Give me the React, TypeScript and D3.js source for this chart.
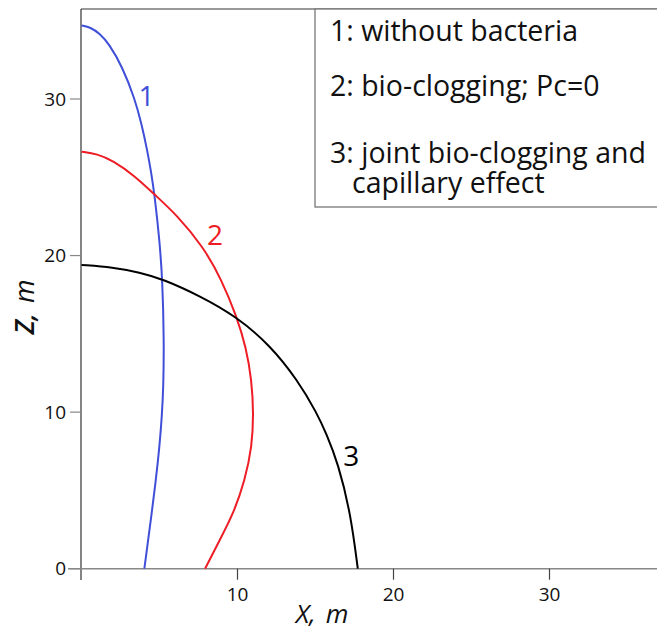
import React from "react";
import * as d3 from "d3";

// Curve 1: without bacteria  [x, z]
const curve1X = [0, 0.58, 1.15, 1.75, 2.62, 3.42, 3.85, 4.2, 4.47, 4.68, 5.0, 5.19, 5.29, 5.25, 5.15, 5.0, 4.76, 4.5, 4.03];
const curve1Z = [34.7, 34.58, 34.19, 33.55, 32.06, 30.0, 28.4, 26.8, 25.3, 23.9, 21.0, 18.44, 14.5, 11.6, 9.7, 7.8, 5.6, 3.54, 0];
// Curve 2: bio-clogging; Pc=0
const curve2X = [0, 1.0, 2.04, 3.4, 4.71, 6.1, 7.81, 8.99, 9.95, 10.54, 10.91, 11.03, 10.93, 10.48, 9.75, 8.86, 7.92];
const curve2Z = [26.63, 26.5, 26.05, 25.1, 23.87, 22.6, 20.56, 18.44, 16.09, 14.18, 12.05, 9.92, 7.79, 5.66, 3.54, 1.83, 0];
// Curve 3: joint bio-clogging and capillary effect
const curve3X = [0, 2.0, 3.75, 5.2, 7.6, 9.95, 12.08, 13.85, 15.1, 15.68, 16.45, 17.25, 17.71];
const curve3Z = [19.4, 19.25, 18.92, 18.5, 17.42, 16.09, 14.28, 12.05, 9.92, 8.65, 6.73, 3.54, 0];

const xTicks = [10, 20, 30];
const yTicks = [0, 10, 20, 30];
const legendLines = ["1: without bacteria", "2: bio-clogging; Pc=0", "3: joint bio-clogging and", "capillary effect"];
const curveLabels = ["1", "2", "3"];

const FONT = "'Open Sans', 'DejaVu Sans', sans-serif";

export default function App() {
  const W = 657, H = 631;
  const x = d3.scaleLinear().domain([0, 10]).range([81.5, 237.5]);
  const y = d3.scaleLinear().domain([0, 30]).range([568.7, 99]);

  const series = [
    { xs: curve1X, zs: curve1Z, color: "#3f4fd8" },
    { xs: curve2X, zs: curve2Z, color: "#ee1d25" },
    { xs: curve3X, zs: curve3Z, color: "#000000" },
  ];
  const line = d3
    .line<[number, number]>()
    .x((d) => x(d[0]))
    .y((d) => y(d[1]))
    .curve(d3.curveBasis);

  const labelPos: [number, number][] = [
    [4.17, 30.2],
    [8.56, 21.3],
    [17.3, 7.2],
  ];

  const plotLeft = x(0) - 0.5;
  const plotTop = 9;
  const axisY = y(0);

  const legendBaselines = [41, 96, 163, 193];
  const legendX = [330, 330, 330, 352];

  return (
    <svg
      width={W}
      height={H}
      style={{ position: "absolute", left: 0, top: 0, background: "#fff" }}
      fontFamily={FONT}
    >
      <rect x={0} y={0} width={W} height={H} fill="#fff" />
      {/* top frame */}
      <line x1={plotLeft} x2={W} y1={plotTop} y2={plotTop} stroke="#777" strokeWidth={1.3} />
      {/* y axis */}
      <line x1={plotLeft} x2={plotLeft} y1={plotTop} y2={580} stroke="#333" strokeWidth={1.2} />
      {/* x axis */}
      <line x1={68} x2={W} y1={axisY} y2={axisY} stroke="#888" strokeWidth={1.6} />
      {/* y ticks */}
      {yTicks.map((t) => (
        <g key={"yt" + t}>
          <line x1={70} x2={plotLeft} y1={y(t)} y2={y(t)} stroke="#888" strokeWidth={1.2} />
          <text x={66} y={y(t)} dy="0.35em" textAnchor="end" fontSize={19} fill="#111">
            {t}
          </text>
        </g>
      ))}
      {/* x ticks */}
      {xTicks.map((t) => (
        <g key={"xt" + t}>
          <line x1={x(t)} x2={x(t)} y1={axisY} y2={axisY + 11} stroke="#444" strokeWidth={1.2} />
          <text x={x(t)} y={601} textAnchor="middle" fontSize={19} fill="#111">
            {t}
          </text>
        </g>
      ))}
      {/* curves */}
      {series.map((s, i) => (
        <path
          key={"c" + i}
          d={line(s.xs.map((v, j) => [v, s.zs[j]] as [number, number])) || ""}
          fill="none"
          stroke={s.color}
          strokeWidth={2}
        />
      ))}
      {/* curve labels */}
      {curveLabels.map((l, i) => (
        <text
          key={"cl" + i}
          x={x(labelPos[i][0])}
          y={y(labelPos[i][1])}
          dy="0.35em"
          textAnchor="middle"
          fontSize={28}
          fill={series[i].color}
        >
          {l}
        </text>
      ))}
      {/* legend box */}
      <rect x={315} y={plotTop} width={W - 315 + 5} height={207 - plotTop} fill="#fff" stroke="#777" strokeWidth={1.3} />
      {legendLines.map((t, i) => (
        <text key={"lg" + i} x={legendX[i]} y={legendBaselines[i]} fontSize={28.5} fill="#111">
          {t}
        </text>
      ))}
      {/* axis titles */}
      <text x={322} y={623} textAnchor="middle" fontSize={26} fontStyle="italic" fill="#111">
        <tspan>X,</tspan>
        <tspan dx={10}>m</tspan>
      </text>
      <text
        transform={`translate(34, 307) rotate(-90)`}
        textAnchor="middle"
        fontSize={27}
        fontStyle="italic"
        fontWeight={600}
        fill="#111"
      >
        <tspan>Z,</tspan>
        <tspan dx={10} fontWeight={400}>m</tspan>
      </text>
    </svg>
  );
}
